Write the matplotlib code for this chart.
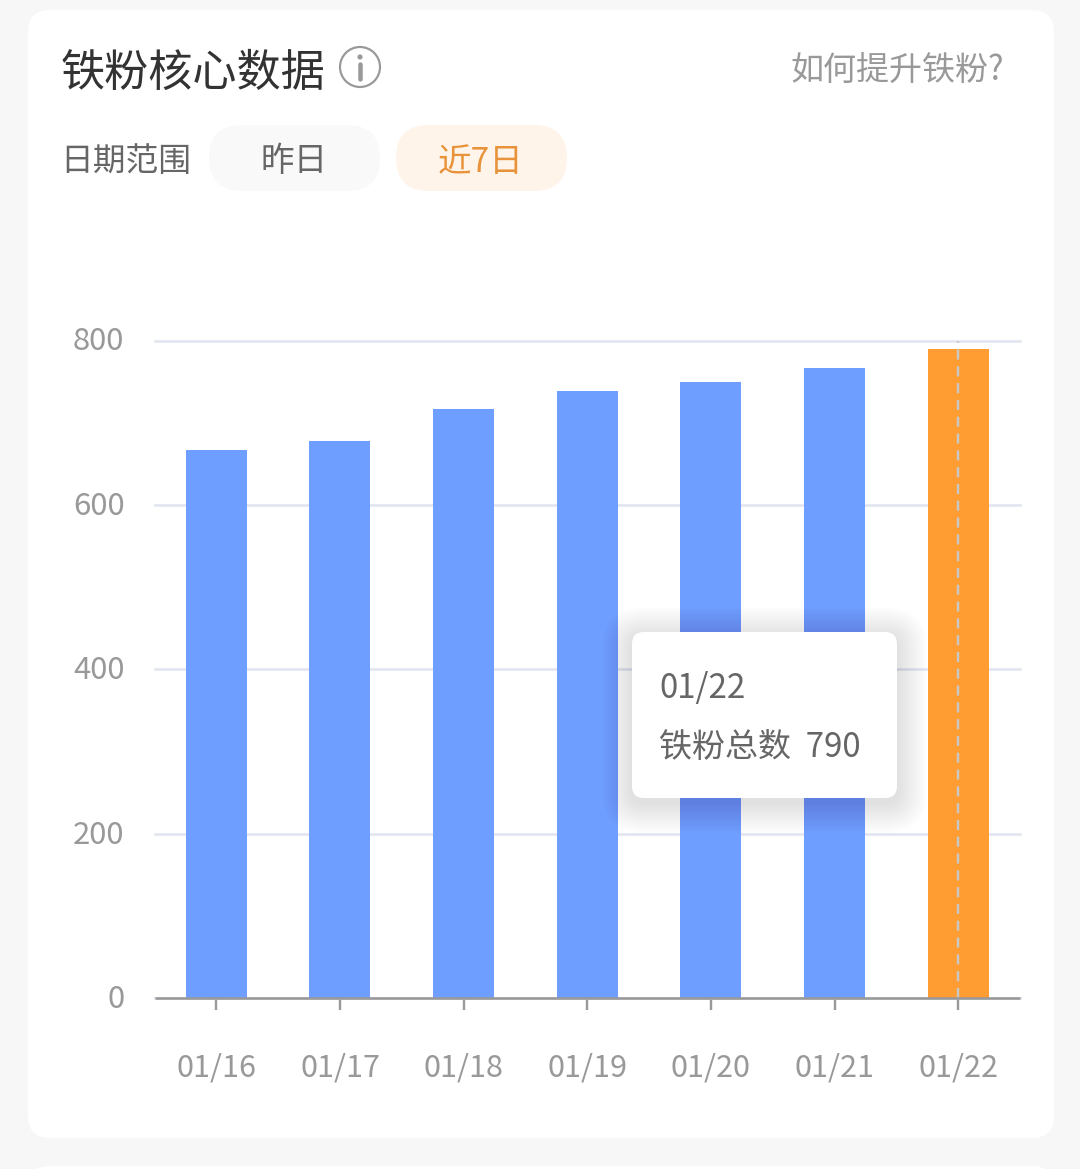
import matplotlib
matplotlib.use("Agg")
import matplotlib.pyplot as plt
from matplotlib.patches import FancyBboxPatch, Circle
from matplotlib.transforms import ScaledTranslation

plt.rcParams['font.family'] = ['Noto Sans CJK SC', 'DejaVu Sans']

# ── data ─────────────────────────────────────────────────────────────────────
dates = ["01/16", "01/17", "01/18", "01/19", "01/20", "01/21", "01/22"]
fans = [667, 678, 717, 739, 749, 767, 790]
y_ticks = [0, 200, 400, 600, 800]
bar_colors = ["#6e9eff"] * 6 + ["#ff9d33"]

W, H = 1080, 1169
PX = 72 / 100  # one pixel in points at dpi 100


def rounded(ax, x0, y0, x1, y1, r, **kw):
    p = FancyBboxPatch((x0 + r, y0 + r), x1 - x0 - 2 * r, y1 - y0 - 2 * r,
                       boxstyle=f"round,pad={r},rounding_size={r}", **kw)
    ax.add_patch(p)
    return p


fig = plt.figure(figsize=(W / 100, H / 100), dpi=100, facecolor="#f7f7f7")

# ── card and header, in pixel coordinates ────────────────────────────────────
bg = fig.add_axes([0, 0, 1, 1], zorder=0)
bg.set_xlim(0, W)
bg.set_ylim(H, 0)
bg.axis("off")
rounded(bg, 28, 10, 1054, 1138, 22, fc="white", ec="none")
rounded(bg, 28, 1166, 1054, 1200, 22, fc="white", ec="none")

bg.text(61, 73, "铁粉核心数据", fontsize=31.8, color="#333333", ha="left", va="center")
bg.add_patch(Circle((360, 67), 20, fc="white", ec="#999999", lw=2.2 * PX))
bg.add_patch(Circle((360, 57), 2.6, fc="#999999", ec="none"))
bg.plot([360, 360], [64, 79], color="#999999", lw=4.5 * PX, solid_capstyle="round")
bg.text(1004, 71, "如何提升铁粉?", fontsize=23.8, color="#999999", ha="right", va="center")

bg.text(60, 162, "日期范围", fontsize=23.6, color="#666666", ha="left", va="center")
rounded(bg, 209, 125, 380, 191, 33, fc="#f9f9f9", ec="none")
bg.text(294, 162, "昨日", fontsize=24.2, color="#666666", ha="center", va="center")
rounded(bg, 396, 125, 567, 191, 33, fc="#fff4e9", ec="none")
bg.text(481, 162, "近7日", fontsize=24.2, color="#e8923a", ha="center", va="center")

# ── bar chart ────────────────────────────────────────────────────────────────
left, right, top, bottom = 154.5, 1020, 340.5, 998
ax = fig.add_axes([left / W, 1 - bottom / H, (right - left) / W, (bottom - top) / H],
                  zorder=1)
ax.patch.set_alpha(0)
positions = list(range(len(dates)))
ax.bar(positions, fans, width=61 / (right - left) * 7, color=bar_colors, zorder=3)
ax.set_xlim(-0.5, 6.5)
ax.set_ylim(0, 800)
ax.set_xticks(positions)
ax.set_xticklabels(dates)
ax.set_yticks(y_ticks)
ax.grid(axis="y", color="#e2e5f0", lw=2.6 * PX, zorder=1)
ax.set_axisbelow(True)
for gl in ax.get_ygridlines():
    gl.set_clip_on(False)
for side in ("top", "left", "right"):
    ax.spines[side].set_visible(False)
ax.spines["bottom"].set_color("#999999")
ax.spines["bottom"].set_linewidth(2.6 * PX)
ax.spines["bottom"].set_capstyle("butt")
ax.spines["bottom"].set_zorder(5)
ax.tick_params(axis="x", length=12 * PX, width=2.4 * PX, color="#999999",
               labelcolor="#999999", labelsize=22, pad=43 * PX)
ax.tick_params(axis="y", length=0, labelcolor="#999999", labelsize=22.4, pad=30 * PX)
nudge = ScaledTranslation(0, 2 * PX / 72, fig.dpi_scale_trans)
for lab in ax.get_yticklabels():
    lab.set_transform(lab.get_transform() + nudge)

# hover line on the highlighted bar
ax.plot([6, 6], [0, 800], color="#c8c8c8", lw=2.4 * PX, ls=(0, (4.2, 2.8)),
        zorder=4, clip_on=False)

# ── tooltip ──────────────────────────────────────────────────────────────────
tip = fig.add_axes([0, 0, 1, 1], zorder=2)
tip.set_xlim(0, W)
tip.set_ylim(H, 0)
tip.axis("off")
for grow in range(30, 0, -2):
    rounded(tip, 632 - grow, 632 - grow + 5, 897 + grow, 798 + grow + 5, 12 + grow,
            fc="black", ec="none", alpha=0.009)
rounded(tip, 632, 632, 897, 798, 12, fc="white", ec="none")
tip.text(659, 688, dates[-1], fontsize=23.8, color="#666666", ha="left", va="center")
tip.text(659, 748, f"铁粉总数  {fans[-1]}", fontsize=23.8, color="#666666",
         ha="left", va="center")

fig.savefig("out.png", dpi=100, facecolor=fig.get_facecolor())
